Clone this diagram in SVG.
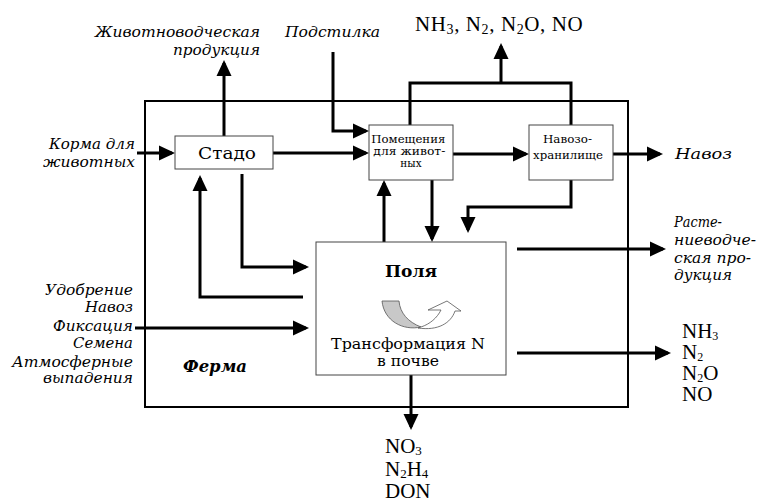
<svg xmlns="http://www.w3.org/2000/svg" width="758" height="502" viewBox="0 0 758 502">
<style>
.c{fill:none;stroke:#000;stroke-width:3;stroke-linejoin:miter;marker-end:url(#ah)}
.cn{fill:none;stroke:#000;stroke-width:3;stroke-linejoin:miter}
.box{fill:#fff;stroke:#444;stroke-width:1}
.t{font-family:"DejaVu Serif","Liberation Serif","Times New Roman",serif;fill:#000}
.i{font-family:"DejaVu Serif","Liberation Serif","Times New Roman",serif;font-style:italic;fill:#000;font-size:15px}
.f{font-family:"Liberation Serif","Times New Roman",serif;fill:#000;font-size:21px}
</style>
<defs>
<marker id="ah" markerUnits="userSpaceOnUse" markerWidth="16" markerHeight="16" viewBox="0 0 16 16" refX="13" refY="8" orient="auto">
<path d="M0,0.5 L16,8 L0,15.5 Z" fill="#000"/>
</marker>
<clipPath id="clipNO"><rect x="600" y="386" width="158" height="17"/></clipPath>
</defs>
<rect width="758" height="502" fill="#fff"/>

<g id="farm">
<rect x="145" y="101" width="483" height="306" fill="none" stroke="#000" stroke-width="2"/>
<text class="t" x="183" y="372" font-size="17" font-weight="bold" font-style="italic" textLength="64" lengthAdjust="spacingAndGlyphs">Ферма</text>
</g>

<g id="connectors">
<path class="c" d="M137,153 H172"/>
<path class="c" d="M224,136 V63"/>
<path class="c" d="M273,153 H366"/>
<path class="c" d="M333,52 V131 H366"/>
<path class="c" d="M453,154 H526"/>
<path class="c" d="M613,154 H660"/>
<path class="cn" d="M410,125 V83 H571 V125"/>
<path class="c" d="M501,83 V46"/>
<path class="c" d="M432,180 V239"/>
<path class="c" d="M571,180 V207 H468 V230"/>
<path class="c" d="M384,242 V183"/>
<path class="c" d="M242,174 V267 H306"/>
<path class="c" d="M303,297 H200 V178"/>
<path class="c" d="M135,328 H306"/>
<path class="c" d="M517,249 H663"/>
<path class="c" d="M517,353 H668"/>
<path class="c" d="M411,375 V427"/>
</g>

<g id="stado">
<rect class="box" x="175" y="136" width="98" height="33"/>
<text class="t" x="198" y="159" font-size="17" textLength="58" lengthAdjust="spacingAndGlyphs">Стадо</text>
</g>

<g id="pomeshcheniya">
<rect class="box" x="369" y="125" width="84" height="55"/>
<text class="t" font-size="10.5" text-anchor="middle">
<tspan x="410" y="143" textLength="74" lengthAdjust="spacingAndGlyphs">Помещения</tspan>
<tspan x="411" y="155" textLength="72" lengthAdjust="spacingAndGlyphs">для живот-</tspan>
<tspan x="411" y="167">ных</tspan>
</text>
</g>

<g id="navozohranilishche">
<rect class="box" x="529" y="125" width="84" height="55"/>
<text class="t" font-size="10.5">
<tspan x="543" y="143" textLength="49" lengthAdjust="spacingAndGlyphs">Навозо-</tspan>
<tspan x="533" y="159" textLength="70" lengthAdjust="spacingAndGlyphs">хранилище</tspan>
</text>
</g>

<g id="polya">
<rect class="box" x="316" y="242" width="190" height="133"/>
<text class="t" x="385" y="277" font-size="17" font-weight="bold" textLength="52" lengthAdjust="spacingAndGlyphs">Поля</text>
<path d="M382,301 L399,301 C400,313 408,322 421,327 C403,331 384,321 382,301 Z" fill="#c8c8c8" stroke="#555" stroke-width="0.8"/>
<path d="M418,328 C438,331 451,323 455,311 L461,311 L447,301 L428,310 L441,310 C437,318 430,324 421,327 Z" fill="#fff" stroke="#555" stroke-width="0.8"/>
<text class="t" x="331" y="349" font-size="15" textLength="154" lengthAdjust="spacingAndGlyphs">Трансформация N</text>
<text class="t" x="377" y="366" font-size="15" textLength="62" lengthAdjust="spacingAndGlyphs">в почве</text>
</g>

<g id="labels">
<text class="i" x="95" y="37" textLength="165" lengthAdjust="spacingAndGlyphs">Животноводческая</text>
<text class="i" x="173" y="55" textLength="87" lengthAdjust="spacingAndGlyphs">продукция</text>
<text class="i" x="285" y="37" textLength="95" lengthAdjust="spacingAndGlyphs">Подстилка</text>
<text class="f" x="415" y="31" letter-spacing="0.6">NH<tspan font-size="14" dy="3">3</tspan><tspan dy="-3">, N</tspan><tspan font-size="14" dy="3">2</tspan><tspan dy="-3">, N</tspan><tspan font-size="14" dy="3">2</tspan><tspan dy="-3">O, NO</tspan></text>
<text class="i" x="49" y="149" textLength="86" lengthAdjust="spacingAndGlyphs">Корма для</text>
<text class="i" x="43" y="167" textLength="92" lengthAdjust="spacingAndGlyphs">животных</text>
<text class="i" x="675" y="159" font-size="18" textLength="57" lengthAdjust="spacingAndGlyphs">Навоз</text>
<text class="i" x="674" y="227" textLength="48" lengthAdjust="spacingAndGlyphs">Расте-</text>
<text class="i" x="674" y="245" textLength="82" lengthAdjust="spacingAndGlyphs">ниеводче-</text>
<text class="i" x="674" y="263" textLength="77" lengthAdjust="spacingAndGlyphs">ская про-</text>
<text class="i" x="674" y="280" textLength="58" lengthAdjust="spacingAndGlyphs">дукция</text>
<text class="i" x="45" y="295" textLength="88" lengthAdjust="spacingAndGlyphs">Удобрение</text>
<text class="i" x="85" y="312" textLength="48" lengthAdjust="spacingAndGlyphs">Навоз</text>
<text class="i" x="53" y="331" textLength="80" lengthAdjust="spacingAndGlyphs">Фиксация</text>
<text class="i" x="73" y="348" textLength="60" lengthAdjust="spacingAndGlyphs">Семена</text>
<text class="i" x="12" y="367" textLength="121" lengthAdjust="spacingAndGlyphs">Атмосферные</text>
<text class="i" x="43" y="383" textLength="90" lengthAdjust="spacingAndGlyphs">выпадения</text>
<text class="f" x="682" y="338" font-size="18">NH<tspan font-size="12" dy="2">3</tspan></text>
<text class="f" x="682" y="359" font-size="18">N<tspan font-size="12" dy="2">2</tspan></text>
<text class="f" x="682" y="380" font-size="18">N<tspan font-size="12" dy="2">2</tspan><tspan dy="-2">O</tspan></text>
<text class="f" x="682" y="401" font-size="18" clip-path="url(#clipNO)">NO</text>
<text class="f" x="385" y="453" font-size="19">NO<tspan font-size="13" dy="2">3</tspan></text>
<text class="f" x="385" y="476" font-size="19">N<tspan font-size="13" dy="2">2</tspan><tspan dy="-2">H</tspan><tspan font-size="13" dy="2">4</tspan></text>
<text class="f" x="385" y="498" font-size="19">DON</text>
</g>
</svg>
